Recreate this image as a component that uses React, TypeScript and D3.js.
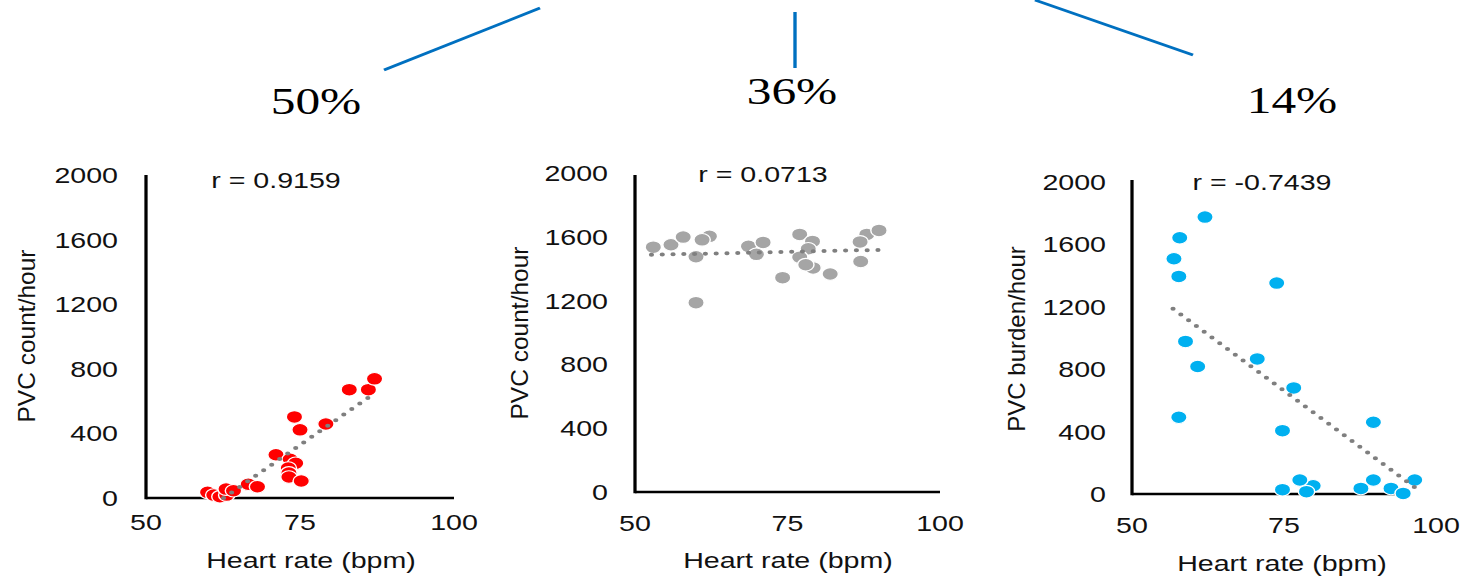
import React from "react";
import * as d3 from "d3";

// ---------- data ----------
const xTicks = [50, 75, 100];
const yTicks = [0, 400, 800, 1200, 1600, 2000];
const percentLabels = ["50%", "36%", "14%"];
const rLabels = ["r = 0.9159", "r = 0.0713", "r = -0.7439"];
const yLabels = ["PVC count/hour", "PVC count/hour", "PVC burden/hour"];
const xLabel = "Heart rate (bpm)";

const hr1 = [60.0, 61.0, 62.0, 63.1, 63.0, 64.2, 66.6, 68.1, 71.1, 73.4, 74.3, 73.1, 73.2, 73.2, 75.2, 74.1, 75.0, 79.2, 83.0, 86.1, 87.1];
const pvc1 = [35, 18, 8, 18, 55, 45, 85, 70, 268, 240, 215, 185, 155, 130, 105, 502, 422, 458, 671, 671, 738];

const hr2 = [53.0, 55.9, 57.9, 62.2, 61.0, 60.0, 60.0, 68.6, 69.9, 71.0, 74.2, 77.0, 79.1, 78.4, 77.0, 79.2, 78.0, 82.0, 88.0, 86.9, 87.0, 90.0];
const pvc2 = [1535, 1550, 1598, 1603, 1581, 1475, 1187, 1540, 1490, 1565, 1344, 1615, 1571, 1525, 1472, 1405, 1425, 1367, 1615, 1568, 1445, 1640];

const hr3 = [62.0, 57.85, 56.9, 57.7, 58.8, 60.8, 57.7, 73.8, 70.6, 76.6, 74.75, 89.7, 74.75, 79.8, 77.6, 78.7, 87.65, 89.7, 92.6, 94.6, 96.5];
const pvc3 = [1775, 1643, 1508, 1395, 978, 817, 492, 1352, 866, 680, 406, 460, 28, 53, 90, 15, 36, 90, 36, 4, 90];

// trend-line end points
const trendX1 = [62.6, 86.1];
const trendY1 = [0, 622];
const trendX2 = [52.7, 90.0];
const trendY2 = [1487, 1518];
const trendX3 = [56.75, 97.6];
const trendY3 = [1187, 11];

const colors = ["#FF0000", "#A5A5A5", "#00B0F0"];

// ---------- layout (final pixel coordinates) ----------
const SX = 1.3;
const panels = [
  { hr: hr1, pvc: pvc1, tx: trendX1, ty: trendY1, x0: 146, x1: 454, yB: 498, yT: 175, axTop: 175, axEnd: 454, tickR: 118, tickY: 530, title: [276, 188], xl: [311, 568], yl: [35, 336], ylFs: 24.5 },
  { hr: hr2, pvc: pvc2, tx: trendX2, ty: trendY2, x0: 635, x1: 940, yB: 492, yT: 173, axTop: 175, axEnd: 940, tickR: 608, tickY: 531, title: [763, 182], xl: [788, 568], yl: [528, 333], ylFs: 24.5 },
  { hr: hr3, pvc: pvc3, tx: trendX3, ty: trendY3, x0: 1132, x1: 1436, yB: 494, yT: 182, axTop: 180, axEnd: 1395, tickR: 1106, tickY: 533, title: [1262, 190], xl: [1282, 571], yl: [1025, 339], ylFs: 24 },
];
const percentPos = [[316, 114], [792, 104], [1292, 113]];
const connectors = [
  [[384, 70], [540, 8]],
  [[795, 12], [795, 68]],
  [[1035, 0], [1193, 55]],
];

const sans = "'Liberation Sans', Arial, Helvetica, sans-serif";
const serif = "'Liberation Serif', 'Times New Roman', serif";

function Panel({ p, i }: { p: any; i: number }) {
  const x = d3.scaleLinear().domain([50, 100]).range([p.x0 / SX, p.x1 / SX]);
  const y = d3.scaleLinear().domain([0, 2000]).range([p.yB, p.yT]);
  const line = d3.line<number>().x((d, k) => x(p.tx[k])).y((d, k) => y(p.ty[k]));
  const fs = 22;
  return (
    <g>
      {/* axes */}
      <line x1={x(50)} x2={p.axEnd / SX} y1={y(0)} y2={y(0)} stroke="#000" strokeWidth={2.6} />
      <line x1={x(50)} x2={x(50)} y1={p.axTop} y2={y(0) + 1.3} stroke="#000" strokeWidth={2.5} />
      {/* y tick labels */}
      {yTicks.map((t) => (
        <text key={"y" + t} x={p.tickR / SX} y={y(t) + 8} textAnchor="end" fontFamily={sans} fontSize={fs} fill="#111">
          {t}
        </text>
      ))}
      {/* x tick labels */}
      {xTicks.map((t) => (
        <text key={"x" + t} x={x(t)} y={p.tickY} textAnchor="middle" fontFamily={sans} fontSize={fs} fill="#111">
          {t}
        </text>
      ))}
      <text x={p.title[0] / SX} y={p.title[1]} textAnchor="middle" fontFamily={sans} fontSize={fs} fill="#111">
        {rLabels[i]}
      </text>
      <text x={p.xl[0] / SX} y={p.xl[1]} textAnchor="middle" fontFamily={sans} fontSize={fs} fill="#111">
        {xLabel}
      </text>
      {/* points */}
      {p.hr.map((h: number, k: number) => (
        <circle key={k} cx={x(h)} cy={y(p.pvc[k])} r={6.3} fill={colors[i]} stroke="#fff" strokeWidth={1.1} />
      ))}
      {/* trend line */}
      <path d={line(p.tx) || ""} fill="none" stroke="#7F7F7F" strokeWidth={4} strokeDasharray="0 8.3" strokeLinecap="round" />
    </g>
  );
}

export default function App() {
  return (
    <svg width={1460} height={578} style={{ position: "absolute", left: 0, top: 0, background: "#fff" }}>
      <rect x={0} y={0} width={1460} height={578} fill="#fff" />
      <g transform={`scale(${SX},1)`}>
        {connectors.map((c, k) => (
          <line key={k} x1={c[0][0] / SX} y1={c[0][1]} x2={c[1][0] / SX} y2={c[1][1]} stroke="#0070C0" strokeWidth={2.6} />
        ))}
        {percentLabels.map((t, k) => (
          <text key={t} x={percentPos[k][0] / SX} y={percentPos[k][1]} textAnchor="middle" fontFamily={serif} fontSize={38} fill="#000">
            {t}
          </text>
        ))}
        {panels.map((p, i) => (
          <Panel key={i} p={p} i={i} />
        ))}
      </g>
      {panels.map((p, i) => (
        <text key={"yl" + i} transform={`translate(${p.yl[0]},${p.yl[1]}) rotate(-90)`} textAnchor="middle" fontFamily={sans} fontSize={p.ylFs} fill="#111">
          {yLabels[i]}
        </text>
      ))}
    </svg>
  );
}
